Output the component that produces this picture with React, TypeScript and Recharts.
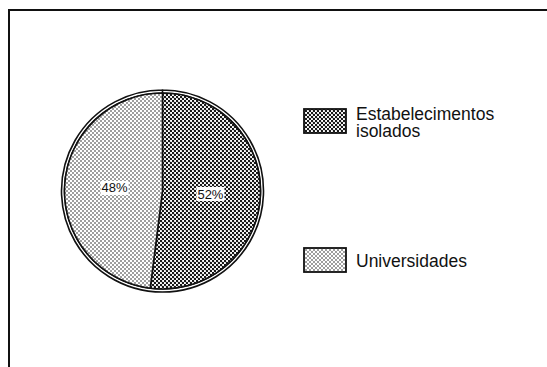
import { Legend, Pie, PieChart } from "recharts"

// Shares of enrolment by type of institution (%)
const categories = ["Estabelecimentos isolados", "Universidades"]
const shares = [52, 48]
const patternIds = ["dots-dense", "dots-light"]

const data = categories.map((name, i) => ({
  name,
  value: shares[i],
  fill: `url(#${patternIds[i]})`,
}))

// single-slice ring drawn around the pie (outer outline)
const ring = [{ name: "total", value: shares.reduce((s, v) => s + v, 0) }]

const FONT = '"Liberation Sans", Arial, sans-serif'

const renderLabel = ({ cx, cy, midAngle, outerRadius, value }: any) => {
  const RAD = Math.PI / 180
  const r = outerRadius * 0.49
  const x = cx + r * Math.cos(-midAngle * RAD)
  const y = cy + r * Math.sin(-midAngle * RAD)
  return (
    <g>
      <rect x={x - 14} y={y - 7} width={28} height={14} fill="#fff" />
      <text
        x={x}
        y={y}
        textAnchor="middle"
        dominantBaseline="central"
        fontFamily={FONT}
        fontSize={13}
        fill="#111"
      >
        {`${value}%`}
      </text>
    </g>
  )
}

const LegendContent = ({ payload }: any) => {
  const items = (payload || []).filter((p: any) => categories.includes(p.value))
  return (
    <div style={{ position: "relative", width: 220, height: 180, fontFamily: FONT }}>
      {items.map((entry: any, i: number) => (
        <div
          key={entry.value}
          style={{ position: "absolute", left: 0, top: i === 0 ? 0 : 139, display: "flex" }}
        >
          <svg width={45} height={27} style={{ display: "block" }}>
            <rect
              x={1}
              y={1}
              width={42}
              height={24}
              fill={`url(#${patternIds[categories.indexOf(entry.value)]})`}
              stroke="#111"
              strokeWidth={1.8}
            />
          </svg>
          <div
            style={{
              marginLeft: 8,
              marginTop: i === 0 ? -2 : 6,
              width: 150,
              fontSize: 17.5,
              lineHeight: "17px",
              color: "#111",
            }}
          >
            {entry.value}
          </div>
        </div>
      ))}
    </div>
  )
}

export default function App() {
  return (
    <div
      style={{
        position: "absolute",
        left: 0,
        top: 0,
        width: 547,
        height: 367,
        background: "#fff",
        overflow: "hidden",
      }}
    >
      {/* frame: top and left rules only */}
      <div
        style={{
          position: "absolute",
          left: 8,
          top: 9,
          width: 560,
          height: 400,
          borderTop: "2px solid #111",
          borderLeft: "2px solid #111",
        }}
      />
      <div style={{ position: "absolute", left: 0, top: 0 }}>
        <PieChart width={547} height={367} margin={{ top: 0, right: 0, bottom: 0, left: 0 }}>
          <defs>
            <pattern id="dots-dense" width={4} height={4} patternUnits="userSpaceOnUse">
              <rect width={4} height={4} fill="#fff" />
              <circle cx={1} cy={1} r={1.2} fill="#111" />
              <circle cx={3} cy={3} r={1.2} fill="#111" />
            </pattern>
            <pattern id="dots-light" width={4} height={4} patternUnits="userSpaceOnUse">
              <rect width={4} height={4} fill="#fff" />
              <circle cx={1} cy={1} r={0.8} fill="#222" />
              <circle cx={3} cy={3} r={0.8} fill="#222" />
            </pattern>
          </defs>
          <Pie
            data={ring}
            dataKey="value"
            cx={162.5}
            cy={191}
            innerRadius={98}
            outerRadius={101}
            startAngle={90}
            endAngle={-270}
            fill="#fff"
            stroke="#111"
            strokeWidth={1.6}
            legendType="none"
            isAnimationActive={false}
          />
          <Pie
            data={data}
            dataKey="value"
            nameKey="name"
            cx={162.5}
            cy={191}
            outerRadius={98}
            startAngle={90}
            endAngle={-270}
            stroke="#111"
            strokeWidth={1.6}
            label={renderLabel}
            labelLine={false}
            isAnimationActive={false}
          />
          <Legend
            layout="vertical"
            align="right"
            verticalAlign="middle"
            content={<LegendContent />}
            wrapperStyle={{ position: "absolute", left: 303, top: 108, width: 220, height: 180 }}
          />
        </PieChart>
      </div>
    </div>
  )
}
